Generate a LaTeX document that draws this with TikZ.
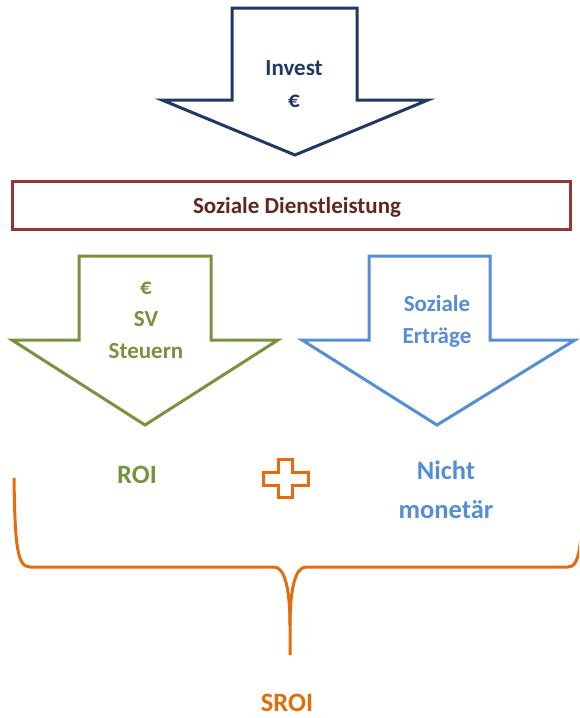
\documentclass[tikz,border=0pt]{standalone}
\usepackage{fontspec}
\setmainfont{Carlito}
\definecolor{navy}{HTML}{1F3864}
\definecolor{boxred}{HTML}{953735}
\definecolor{textred}{HTML}{632523}
\definecolor{olive}{HTML}{77933C}
\definecolor{skyblue}{HTML}{558ED5}
\definecolor{orng}{HTML}{E46C0A}
\begin{document}
\begin{tikzpicture}[x=1pt,y=-1pt,
  lbl/.style={font=\bfseries\fontsize{23}{32}\selectfont, align=center, inner sep=0pt},
  biglbl/.style={font=\bfseries\fontsize{26.5}{39}\selectfont, align=center, inner sep=0pt},
  shapeline/.style={line width=3pt, line join=miter}]
\useasboundingbox (0,0) rectangle (579,718);
\clip (0,0) rectangle (579,718);
% top arrow
\draw[shapeline, navy] (232,8) -- (357,8) -- (357,100) -- (428,100) -- (295,155) -- (162,100) -- (232,100) -- cycle;
\node[lbl, text=navy] (invest) at (294,84) {Invest\\€};
% box
\draw[shapeline, boxred] (12,181) rectangle (570,229);
\node[lbl, text=textred] (dienst) at (297,207) {Soziale Dienstleistung};
% green arrow
\draw[shapeline, olive] (79,256) -- (211,256) -- (211,340) -- (278,340) -- (145,425) -- (12,340) -- (79,340) -- cycle;
\node[lbl, text=olive] (geld) at (146,320) {€\\SV\\Steuern};
% blue arrow
\draw[shapeline, skyblue] (369,256) -- (490,256) -- (490,340) -- (575,340) -- (437,425) -- (302,340) -- (369,340) -- cycle;
\node[lbl, text=skyblue] (sozial) at (437,321) {Soziale\\Erträge};
% results
\node[biglbl, text=olive, anchor=base] (roi) at (137,483) {ROI};
\node[biglbl, text=skyblue] (nicht) at (446,490) {Nicht\\monetär};
% plus
\draw[shapeline, orng] (278,459) -- (292,459) -- (292,472) -- (308,472) -- (308,485) -- (292,485) -- (292,497) -- (278,497) -- (278,485) -- (263,485) -- (263,472) -- (278,472) -- cycle;
% brace
\draw[orng, line width=3pt]
  (14,478) .. controls (15,545) and (17,567) .. (30,567)
  -- (274,567) .. controls (285,567) and (290,590) .. (290,625) -- (290,655);
\draw[orng, line width=3pt]
  (290,625) .. controls (290,590) and (295,567) .. (306,567)
  -- (568,567) .. controls (580,567) and (582,545) .. (583,478);
\node[biglbl, text=orng, anchor=base] (sroi) at (287,711) {SROI};
\end{tikzpicture}
\end{document}
